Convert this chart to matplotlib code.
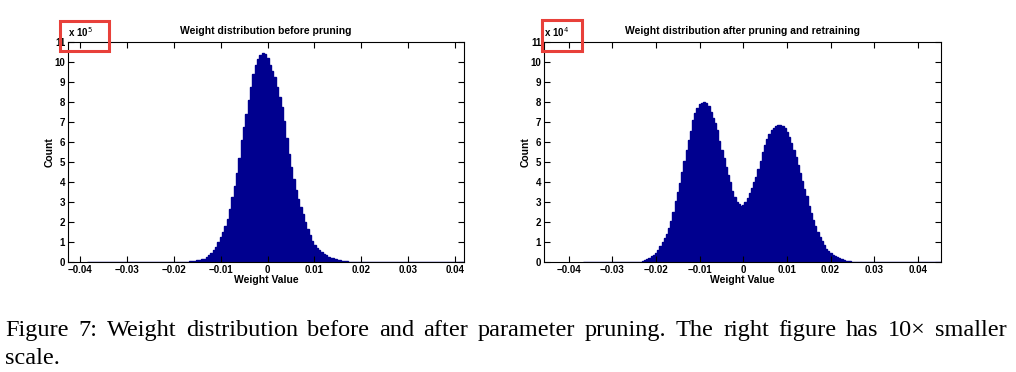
import matplotlib
matplotlib.use("Agg")
import matplotlib.pyplot as plt
import numpy as np
from matplotlib.ticker import FuncFormatter
from matplotlib.patches import Rectangle

plt.rcParams['font.family'] = ['Liberation Sans', 'DejaVu Sans']

# histogram bins: width 0.0005, centres listed below
bin_w = 0.0005

# before pruning, counts in units of 1e5
before_exp = 5
before_centers = np.round(np.arange(-0.0175, 0.0186, bin_w), 5)
before_counts = [
    0.01, 0.02, 0.035, 0.045, 0.06, 0.085, 0.11, 0.14, 0.17, 0.25,
    0.335, 0.45, 0.61, 0.77, 1.01, 1.25, 1.50, 1.78, 2.15, 2.65,
    3.25, 3.82, 4.45, 5.2, 6.1, 6.75, 7.4, 8.1, 8.75, 9.4,
    9.83, 10.15, 10.35, 10.45, 10.42, 10.2, 9.85, 9.55, 9.25, 8.75,
    8.25, 7.75, 7.05, 6.2, 5.4, 4.75, 4.15, 3.6, 3.15, 2.75,
    2.4, 2.0, 1.65, 1.35, 1.07, 0.85, 0.68, 0.58, 0.49, 0.39,
    0.33, 0.27, 0.22, 0.18, 0.15, 0.12, 0.09, 0.06, 0.05, 0.03,
    0.02, 0.01, 0.005,
]
before_range = (-0.0385, 0.045)

# after pruning and retraining, counts in units of 1e4
after_exp = 4
after_centers = np.round(np.arange(-0.0235, 0.0256, bin_w), 5)
after_counts = [
    0.02, 0.06, 0.1, 0.15, 0.21, 0.28, 0.36, 0.45, 0.6, 0.8,
    0.98, 1.18, 1.42, 1.72, 2.05, 2.5, 3.05, 3.5, 3.93, 4.5,
    5.05, 5.6, 6.1, 6.55, 7.1, 7.45, 7.7, 7.9, 7.97, 8.0,
    7.93, 7.8, 7.5, 7.22, 6.95, 6.6, 6.05, 5.6, 5.2, 4.75,
    4.35, 4.0, 3.55, 3.25, 3.0, 2.88, 2.8, 2.85, 3.0, 3.2,
    3.43, 3.72, 4.0, 4.27, 4.65, 5.05, 5.5, 5.85, 6.15, 6.38,
    6.58, 6.72, 6.82, 6.85, 6.85, 6.78, 6.68, 6.52, 6.25, 5.95,
    5.6, 5.25, 4.85, 4.45, 4.05, 3.65, 3.3, 2.8, 2.45, 2.1,
    1.78, 1.5, 1.27, 1.05, 0.85, 0.67, 0.55, 0.45, 0.37, 0.3,
    0.24, 0.18, 0.13, 0.09, 0.06, 0.04, 0.03, 0.02, 0.01,
]
after_range = (-0.0368, 0.05)

titles = ["Weight distribution before pruning",
          "Weight distribution after pruning and retraining"]
x_ticks = [-0.04, -0.03, -0.02, -0.01, 0, 0.01, 0.02, 0.03, 0.04]
y_ticks = list(range(12))
caption_1 = ("Figure 7: Weight distribution before and after parameter pruning. "
             "The right figure has 10\u00d7 smaller")
caption_2 = "scale."

navy = '#00008F'
W, H = 1016, 372

fig = plt.figure(figsize=(W / 100, H / 100), dpi=100)
ax1 = fig.add_axes([0.0669, 0.2957, 0.3898, 0.5914])
ax2 = fig.add_axes([0.5354, 0.2957, 0.3907, 0.5914])

panels = [
    (ax1, before_centers, before_counts, before_exp, before_range, (-0.0426, 0.0419), titles[0]),
    (ax2, after_centers, after_counts, after_exp, after_range, (-0.0457, 0.0453), titles[1]),
]

for ax, centers, counts, exp, rng, xlim, title in panels:
    scale = 10 ** exp
    core_edges = np.append(centers - bin_w / 2, centers[-1] + bin_w / 2)
    edges = np.concatenate([[rng[0]], core_edges, [rng[1]]])
    vals = np.concatenate([[0], np.array(counts) * scale, [0]])
    ax.stairs(vals, edges, fill=True, color=navy, linewidth=0)
    ax.stairs(vals, edges, fill=False, color=navy, linewidth=1.0)

    ax.set_xlim(*xlim)
    ax.set_ylim(0, 11 * scale)
    ax.set_xticks(x_ticks)
    ax.set_yticks([t * scale for t in y_ticks])
    ax.xaxis.set_major_formatter(FuncFormatter(lambda v, p: f"{v:g}".replace('-', '\u2212')))
    ax.yaxis.set_major_formatter(FuncFormatter(lambda v, p, s=scale: f"{v / s:g}"))
    ax.tick_params(direction='in', length=4, width=0.8, top=True, right=True,
                   labelsize=7, pad=2)
    for lab in ax.get_xticklabels() + ax.get_yticklabels():
        lab.set_fontweight('bold')
    for sp in ax.spines.values():
        sp.set_linewidth(0.8)
    ax.set_title(title, fontsize=7.5, fontweight='bold', pad=6)
    ax.set_xlabel('Weight Value', fontsize=7.5, fontweight='bold', labelpad=0)
    ax.set_ylabel('Count', fontsize=7.5, fontweight='bold', labelpad=0)
    ax.text(0.0, 1.012, f"x 10$^{exp}$", transform=ax.transAxes, fontsize=7,
            fontweight='bold', ha='left', va='bottom')

# red highlight boxes around the exponent labels
for box in ([60, 21, 49, 30], [542, 20, 40, 31]):
    x, y, w, h = box
    fig.patches.append(Rectangle((x / W, 1 - (y + h) / H), w / W, h / H,
                                 transform=fig.transFigure, fill=False,
                                 edgecolor='#E8403A', linewidth=2.2))

# caption: first line justified between the margins, second line left aligned
cap_font = dict(fontsize=17.5, family='Liberation Serif', va='baseline', ha='left')
words = caption_1.split(' ')
renderer = fig.canvas.get_renderer()
texts = [fig.text(0, 1 - 336 / H, wd, **cap_font) for wd in words]
widths = [t.get_window_extent(renderer).width for t in texts]
left_px, right_px = 5, 1007
gap = (right_px - left_px - sum(widths)) / (len(words) - 1)
xpos = left_px
for t, wdt in zip(texts, widths):
    t.set_x(xpos / W)
    xpos += wdt + gap
fig.text(left_px / W, 1 - 364 / H, caption_2, **cap_font)

plt.savefig('out.png', dpi=100)
plt.close()
